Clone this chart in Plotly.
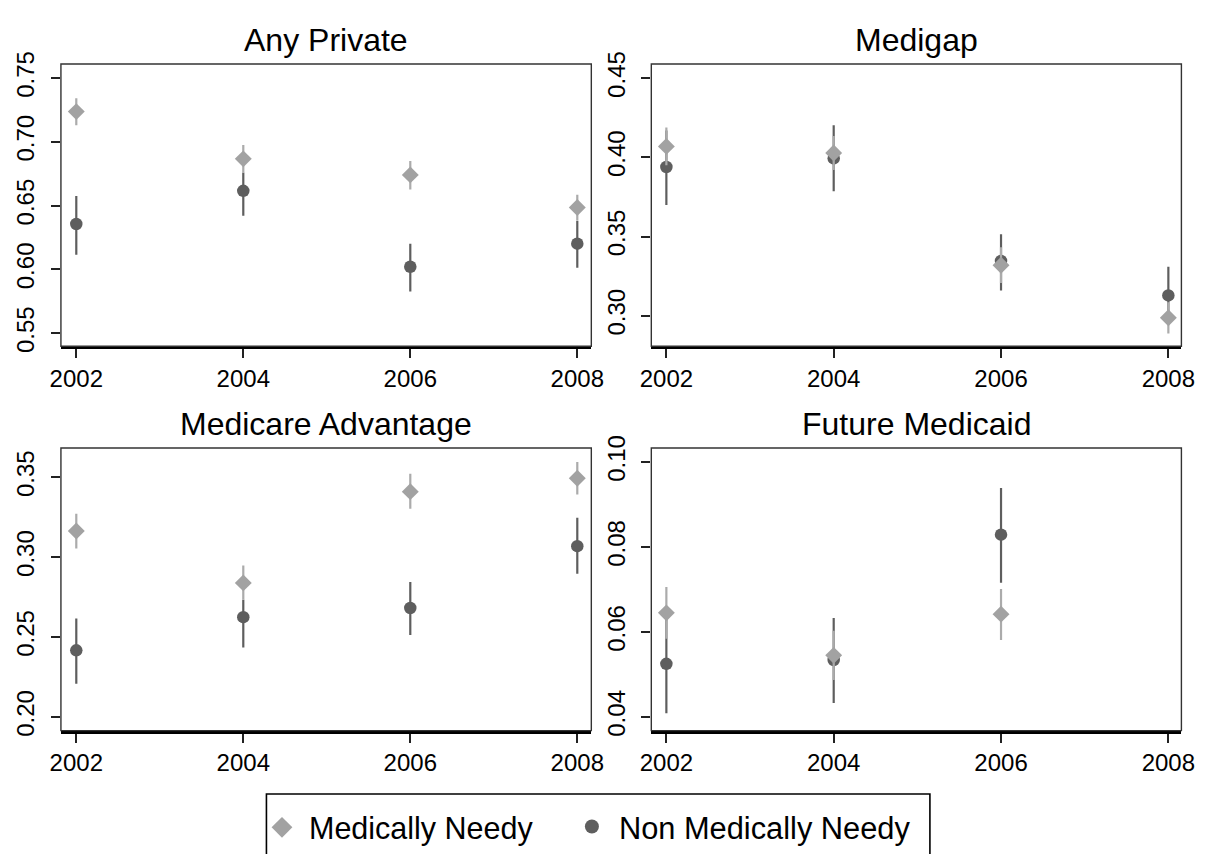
import plotly.graph_objects as go

years = [2002, 2004, 2006, 2008]

# Any Private
ap_needy = [0.7237, 0.6867, 0.6741, 0.6486]
ap_needy_lo = [0.7130, 0.6760, 0.6626, 0.6381]
ap_needy_hi = [0.7342, 0.6976, 0.6849, 0.6586]
ap_non = [0.6356, 0.6616, 0.6021, 0.6202]
ap_non_lo = [0.6116, 0.6420, 0.5827, 0.6013]
ap_non_hi = [0.6575, 0.6760, 0.6202, 0.6380]

# Medigap
mg_needy = [0.4069, 0.4027, 0.3319, 0.2987]
mg_needy_lo = [0.3950, 0.3920, 0.3206, 0.2888]
mg_needy_hi = [0.4188, 0.4135, 0.3432, 0.3085]
mg_non = [0.3939, 0.3993, 0.3346, 0.3128]
mg_non_lo = [0.3699, 0.3785, 0.3159, 0.2947]
mg_non_hi = [0.4170, 0.4202, 0.3515, 0.3309]

# Medicare Advantage
ma_needy = [0.3164, 0.2839, 0.3410, 0.3494]
ma_needy_lo = [0.3054, 0.2733, 0.3303, 0.3392]
ma_needy_hi = [0.3272, 0.2948, 0.3522, 0.3596]
ma_non = [0.2417, 0.2625, 0.2682, 0.3069]
ma_non_lo = [0.2208, 0.2435, 0.2513, 0.2896]
ma_non_hi = [0.2617, 0.2733, 0.2845, 0.3246]

# Future Medicaid (no 2008 wave)
fm_needy = [0.0645, 0.0545, 0.0642, None]
fm_needy_lo = [0.0584, 0.0487, 0.0581, None]
fm_needy_hi = [0.0706, 0.0603, 0.0701, None]
fm_non = [0.0525, 0.0534, 0.0829, None]
fm_non_lo = [0.0409, 0.0433, 0.0716, None]
fm_non_hi = [0.0641, 0.0633, 0.0939, None]

titles = ["Any Private", "Medigap", "Medicare Advantage", "Future Medicaid"]
y_ticks = [
    [0.55, 0.60, 0.65, 0.70, 0.75],
    [0.30, 0.35, 0.40, 0.45],
    [0.20, 0.25, 0.30, 0.35],
    [0.04, 0.06, 0.08, 0.10],
]
y_ranges = [
    [0.5398, 0.7610],
    [0.2807, 0.4589],
    [0.1915, 0.3683],
    [0.03679, 0.10329],
]
x_ranges = [
    [2001.816, 2008.168],
    [2001.820, 2008.156],
]

panels = [
    (ap_needy, ap_needy_lo, ap_needy_hi, ap_non, ap_non_lo, ap_non_hi),
    (mg_needy, mg_needy_lo, mg_needy_hi, mg_non, mg_non_lo, mg_non_hi),
    (ma_needy, ma_needy_lo, ma_needy_hi, ma_non, ma_non_lo, ma_non_hi),
    (fm_needy, fm_needy_lo, fm_needy_hi, fm_non, fm_non_lo, fm_non_hi),
]

W, H = 1214, 854
x_dom_px = [(50, 592), (653.3, 1195)]
y_dom_px = [(52.3, 341.7), (446, 735.7)]

NEEDY_COL = "#a2a2a2"
NEEDY_BAR = "#ababab"
NON_COL = "#5e5e5e"
FONT = "Liberation Sans, Arial, sans-serif"

fig = go.Figure()


def clean(vals, lo, hi):
    xs, ys, up, dn = [], [], [], []
    for yr, v, l, h in zip(years, vals, lo, hi):
        if v is None:
            continue
        xs.append(yr)
        ys.append(v)
        up.append(h - v)
        dn.append(v - l)
    return xs, ys, up, dn


for i, (nd, ndl, ndh, nn, nnl, nnh) in enumerate(panels):
    ax = "" if i == 0 else str(i + 1)
    xa, ya = "x" + ax, "y" + ax

    xs, ys, up, dn = clean(nn, nnl, nnh)
    fig.add_trace(go.Scatter(
        x=xs, y=ys, mode="markers", name="Non Medically Needy",
        xaxis=xa, yaxis=ya, showlegend=False,
        marker=dict(symbol="circle", size=12.5, color=NON_COL, line=dict(width=0)),
        error_y=dict(type="data", array=up, arrayminus=dn, color=NON_COL,
                     thickness=2.2, width=0),
    ))
    xs, ys, up, dn = clean(nd, ndl, ndh)
    fig.add_trace(go.Scatter(
        x=xs, y=ys, mode="markers", name="Medically Needy",
        xaxis=xa, yaxis=ya, showlegend=False,
        marker=dict(symbol="diamond", size=13, color=NEEDY_COL, line=dict(width=0)),
        error_y=dict(type="data", array=up, arrayminus=dn, color=NEEDY_BAR,
                     thickness=2.2, width=0),
    ))

    col, row = i % 2, i // 2
    x0, x1 = x_dom_px[col]
    y0, y1 = y_dom_px[row]
    xdom = [x0 / W, x1 / W]
    ydom = [1 - y1 / H, 1 - y0 / H]

    fig.layout["xaxis" + ax] = dict(
        domain=xdom, anchor=ya, range=x_ranges[col],
        tickvals=years, ticktext=[str(y) for y in years],
        ticks="outside", ticklen=9, tickwidth=1.5, tickcolor="#222222",
        showline=True, linecolor="black", linewidth=2.8,
        showgrid=False, zeroline=False,
        tickfont=dict(family=FONT, size=24, color="black"),
    )
    fig.layout["yaxis" + ax] = dict(
        domain=ydom, anchor=xa, range=y_ranges[i],
        tickvals=y_ticks[i], tickformat=".2f", tickangle=-90,
        ticks="outside", ticklen=9, tickwidth=1.5, tickcolor="#222222",
        showline=False, showgrid=False, zeroline=False,
        ticklabelstandoff=7,
        tickfont=dict(family=FONT, size=24, color="black"),
    )

    # panel frame
    fig.add_shape(type="rect", xref=xa + " domain", yref=ya + " domain",
                  x0=0, x1=1, y0=0, y1=1,
                  line=dict(color="#333333", width=1.4), layer="above")

    fig.add_annotation(
        text=titles[i], xref="paper", yref="paper",
        x=(xdom[0] + xdom[1]) / 2, y=1 - (y0 - 24.5) / H,
        xanchor="center", yanchor="middle", showarrow=False,
        font=dict(family=FONT, size=32, color="black"),
    )

# legend entries (symbols only, no data)
fig.add_trace(go.Scatter(
    x=[None], y=[None], mode="markers", name="Medically Needy",
    legend="legend",
    marker=dict(symbol="diamond", size=16, color=NEEDY_COL),
))
fig.add_trace(go.Scatter(
    x=[None], y=[None], mode="markers", name="Non Medically Needy",
    legend="legend2",
    marker=dict(symbol="circle", size=14, color=NON_COL),
))

# legend frame, running off the bottom edge
fig.add_shape(type="rect", xref="paper", yref="paper",
              x0=260 / W, x1=938 / W, y0=-0.05, y1=1 - 800.7 / H,
              line=dict(color="black", width=1.6))

legend_common = dict(
    orientation="h", xanchor="left",
    y=1 - 835 / H, yanchor="middle",
    borderwidth=0, bgcolor="rgba(0,0,0,0)",
    itemwidth=44,
)

fig.update_layout(
    width=W, height=H,
    margin=dict(l=0, r=0, t=0, b=0),
    paper_bgcolor="white", plot_bgcolor="white",
    legend=dict(x=248.3 / W, font=dict(family=FONT, size=30.5, color="black"),
                **legend_common),
    legend2=dict(x=565 / W, font=dict(family=FONT, size=30.8, color="black"),
                 **legend_common),
)

fig.write_html("out.html")
